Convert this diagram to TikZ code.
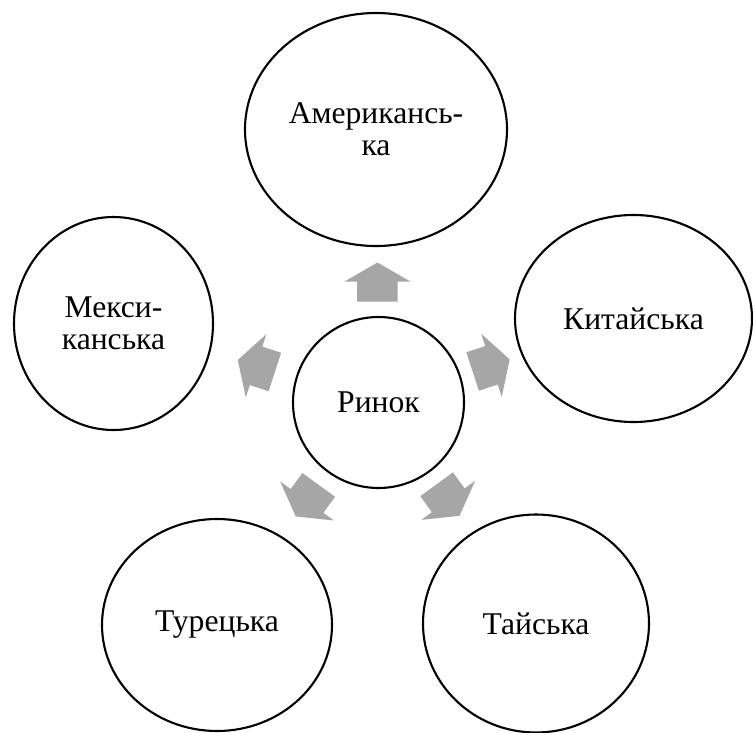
\documentclass[tikz,border=0pt]{standalone}
\usepackage{fontspec}
\setmainfont{Liberation Serif}
\usetikzlibrary{
  shapes.geometric,
  shapes.arrows,
  calc,
  positioning
}
\tikzset{
  bigtext/.style={font=\rmfamily\fontsize{27}{27}\selectfont},
  market/.style={
    circle, draw, line width=1.8pt, inner sep=0pt,
    minimum size=5.13cm, align=center, bigtext
  },
  cuisine/.style={
    ellipse, draw, line width=1.8pt, inner sep=0pt,
    align=center, bigtext
  },
  blockarrow/.style={
    single arrow, fill=black!35, draw=none,
    inner xsep=0pt, inner ysep=0.6cm,
    minimum height=1.17cm,
    single arrow head extend=0.39cm, single arrow tip angle=120
  },
}
\begin{document}
\begin{tikzpicture}

\useasboundingbox (0,0) rectangle (22.59,-21.99);

% --- centre ---
\node[market] (rynok) at (11.355,-12.075) {Ринок};

% --- five cuisines round it ---
\node[cuisine, minimum width=7.86cm, minimum height=6.99cm] (amer) at (11.28,-3.885) {Американсь-\\ка};
\node[cuisine, minimum width=7.11cm, minimum height=6.21cm] (china) at (19.005,-9.555) {Китайська};
\node[cuisine, minimum width=6.78cm, minimum height=6.54cm] (thai) at (16.08,-18.705) {Тайська};
\node[cuisine, minimum width=6.90cm, minimum height=6.36cm] (turk) at (6.51,-18.75) {Турецька};
\node[cuisine, minimum width=5.97cm, minimum height=6.39cm] (mex) at (3.405,-9.705) {Мекси-\\канська};

% --- grey block arrows, from the market outwards ---
\node[blockarrow, rotate=90] (toAmer) at ($(rynok)!0.42!(amer)$) {};
\node[blockarrow, rotate=18] (toChina) at ($(rynok)!0.42!(china)$) {};
\node[blockarrow, rotate=-54] (toThai) at ($(rynok)!0.42!(thai)$) {};
\node[blockarrow, rotate=-126] (toTurk) at ($(rynok)!0.42!(turk)$) {};
\node[blockarrow, rotate=162] (toMex) at ($(rynok)!0.44!(mex)$) {};

\end{tikzpicture}
\end{document}
